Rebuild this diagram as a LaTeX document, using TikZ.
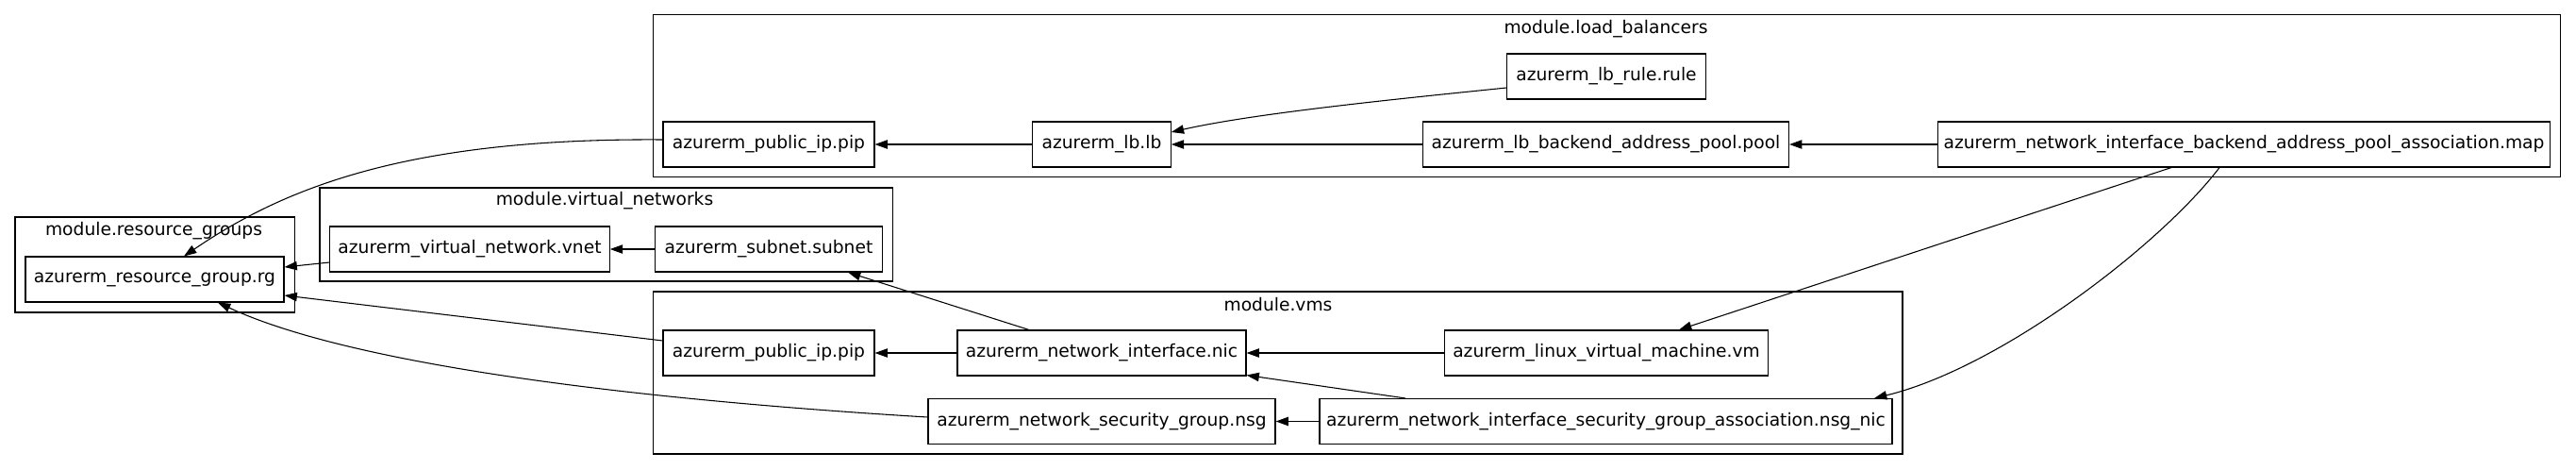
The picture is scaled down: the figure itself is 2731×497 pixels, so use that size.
\documentclass[tikz,border=0pt]{standalone}
\usepackage{fontspec}
\setmainfont{DejaVu Sans}
\usetikzlibrary{arrows.meta,calc}
\begin{document}
\begin{tikzpicture}[x=0.75pt,y=-0.75pt,
  font=\fontsize{14pt}{16pt}\selectfont,
  res/.style={draw,line width=0.8pt,rectangle,minimum height=36pt,inner xsep=2pt,inner ysep=0pt,minimum width=#1*0.75pt},
  cluster/.style={draw,line width=0.8pt},
  title/.style={inner sep=0pt,anchor=center},
  arr/.style={-{Triangle[length=10pt,width=7pt]},line width=0.8pt}]
\useasboundingbox (0,0) rectangle (2731,497);
% clusters
\draw[cluster] (692.7,15.7) rectangle (2714.5,187.7);
\node[title] (tlb) at (1702.5,31) {module.load\_balancers};
\draw[cluster] (16,230) rectangle (312.5,331);
\node[title] (trg) at (163,245) {module.resource\_groups};
\draw[cluster] (339,199) rectangle (946.6,298);
\node[title] (tvn) at (641,213) {module.virtual\_networks};
\draw[cluster] (692.6,309) rectangle (2017,481);
\node[title] (tvm) at (1355,323) {module.vms};
% nodes
\node[res=274] (rg) at (164,296) {azurerm\_resource\_group.rg};
\node[res=296.5] (vnet) at (498,264) {azurerm\_virtual\_network.vnet};
\node[res=241.5] (subnet) at (815,264) {azurerm\_subnet.subnet};
\node[res=224] (lbpip) at (815,153) {azurerm\_public\_ip.pip};
\node[res=146.5] (lb) at (1168,153) {azurerm\_lb.lb};
\node[res=210.5] (rule) at (1703,81) {azurerm\_lb\_rule.rule};
\node[res=388] (pool) at (1702.5,153) {azurerm\_lb\_backend\_address\_pool.pool};
\node[res=649.5] (map) at (2379,153) {azurerm\_network\_interface\_backend\_address\_pool\_association.map};
\node[res=224] (vmpip) at (815,374) {azurerm\_public\_ip.pip};
\node[res=306] (nic) at (1168,374) {azurerm\_network\_interface.nic};
\node[res=343.5] (vm) at (1703,374) {azurerm\_linux\_virtual\_machine.vm};
\node[res=368] (nsg) at (1168,446.5) {azurerm\_network\_security\_group.nsg};
\node[res=607] (nsgnic) at (1702.5,446.5) {azurerm\_network\_interface\_security\_group\_association.nsg\_nic};
% edges
\draw[arr] ($(lbpip.west)+(0,-5)$) .. controls (430,146) and (300,200) .. ($(rg.north)+(31,0)$);
\draw[arr] ($(vnet.west)+(0,14)$) -- ($(rg.east)+(0,-13)$);
\draw[arr] (subnet) -- (vnet);
\draw[arr] ($(vmpip.west)+(0,-13)$) -- ($(rg.east)+(0,17)$);
\draw[arr] ($(nsg.west)+(0,-4.5)$) .. controls (700,425) and (380,390) .. ($(rg.south)+(67,0)$);
\draw[arr] (lb) -- (lbpip);
\draw[arr] ($(rule.west)+(0,12)$) .. controls (1480,105) and (1330,120) .. ($(lb.east)+(0,-13)$);
\draw[arr] (pool) -- (lb);
\draw[arr] (map) -- (pool);
\draw[arr] ($(map.south)+(-77,0)$) -- ($(vm.north)+(77,0)$);
\draw[arr] ($(map.south)+(-26,0)$) .. controls (2290,260) and (2120,390) .. ($(nsgnic.north)+(284.5,0)$);
\draw[arr] (nic) -- (vmpip);
\draw[arr] ($(nic.north)+(-77,0)$) -- ($(subnet.south)+(84,0)$);
\draw[arr] (vm) -- (nic);
\draw[arr] ($(nsgnic.north)+(-212.5,0)$) -- ($(nic.south east)+(0,-1)$);
\draw[arr] (nsgnic) -- (nsg);
\end{tikzpicture}
\end{document}
